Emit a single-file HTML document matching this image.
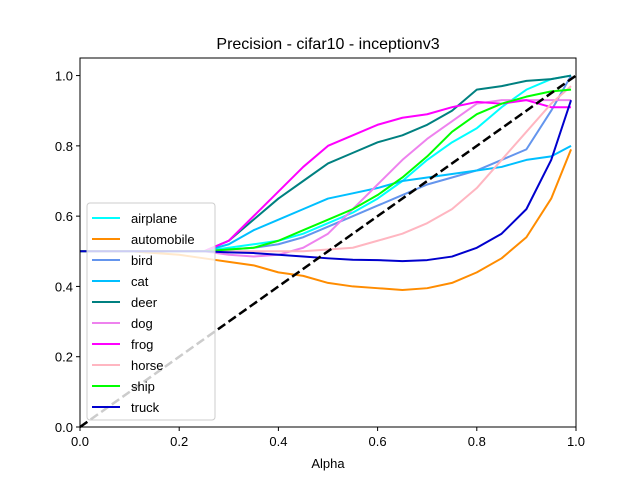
<!DOCTYPE html>
<html><head><meta charset="utf-8"><style>body{margin:0;background:#fff}svg{display:block;font-family:"Liberation Sans","DejaVu Sans",sans-serif}</style></head>
<body>
<svg id="chart" width="640" height="480">
<rect width="640" height="480" fill="#fff"/>
<text x="328" y="49" text-anchor="middle" font-size="16">Precision - cifar10 - inceptionv3</text>
<g id="plot"></g>
<rect x="80" y="58" width="496" height="369" fill="none" stroke="#000" stroke-width="1"/>
<g id="ticks"></g>
<text x="328" y="468" text-anchor="middle" font-size="13">Alpha</text>
<g id="legend"></g>
</svg>
<script>
const xs = [0,0.1,0.2,0.25,0.3,0.35,0.4,0.45,0.5,0.55,0.6,0.65,0.7,0.75,0.8,0.85,0.9,0.95,0.99];
const seriesNames = ["airplane","automobile","bird","cat","deer","dog","frog","horse","ship","truck"];
const colors = ["#00ffff","#ff8c00","#6495ed","#00bfff","#008080","#ee82ee","#ff00ff","#ffb6c1","#00ff00","#0000cd"];
const airplane = [0.5,0.5,0.5,0.5,0.51,0.52,0.53,0.55,0.58,0.61,0.65,0.70,0.76,0.81,0.85,0.91,0.96,0.99,1.0];
const automobile = [0.5,0.5,0.49,0.48,0.47,0.46,0.44,0.43,0.41,0.40,0.395,0.39,0.395,0.41,0.44,0.48,0.54,0.65,0.79];
const bird = [0.5,0.5,0.5,0.5,0.505,0.51,0.52,0.54,0.57,0.60,0.63,0.66,0.69,0.71,0.73,0.76,0.79,0.90,1.0];
const cat = [0.5,0.5,0.5,0.5,0.52,0.56,0.59,0.62,0.65,0.665,0.68,0.70,0.71,0.72,0.73,0.74,0.76,0.77,0.80];
const deer = [0.5,0.5,0.5,0.5,0.53,0.59,0.65,0.70,0.75,0.78,0.81,0.83,0.86,0.90,0.96,0.97,0.985,0.99,1.0];
const dog = [0.5,0.5,0.5,0.5,0.49,0.485,0.49,0.51,0.55,0.62,0.69,0.76,0.82,0.87,0.92,0.93,0.93,0.93,0.93];
const frog = [0.5,0.5,0.5,0.5,0.53,0.60,0.67,0.74,0.80,0.83,0.86,0.88,0.89,0.91,0.925,0.92,0.93,0.91,0.91];
const horse = [0.5,0.5,0.5,0.5,0.5,0.5,0.5,0.5,0.505,0.51,0.53,0.55,0.58,0.62,0.68,0.76,0.84,0.92,0.97];
const ship = [0.5,0.5,0.5,0.5,0.505,0.51,0.53,0.56,0.59,0.62,0.66,0.71,0.77,0.84,0.89,0.92,0.94,0.955,0.96];
const truck = [0.5,0.5,0.5,0.5,0.497,0.495,0.49,0.485,0.48,0.476,0.475,0.472,0.475,0.485,0.51,0.55,0.62,0.76,0.93];
const allSeries = [airplane,automobile,bird,cat,deer,dog,frog,horse,ship,truck];
const xTicks = ["0.0","0.2","0.4","0.6","0.8","1.0"];
const yTicks = ["0.0","0.2","0.4","0.6","0.8","1.0"];

const NS="http://www.w3.org/2000/svg";
const X0=80,X1=576,Y0=427,YT=58,YMAX=1.05;
const sx=v=>X0+v*(X1-X0);
const sy=v=>Y0-v/YMAX*(Y0-YT);
function mk(tag,attrs,parent){const e=document.createElementNS(NS,tag);for(const k in attrs)e.setAttribute(k,attrs[k]);parent.appendChild(e);return e;}
const plot=document.getElementById('plot');
allSeries.forEach((s,i)=>{
  const p=mk('polyline',{points:s.map((v,j)=>sx(xs[j])+','+sy(v)).join(' '),fill:'none',stroke:colors[i],'stroke-width':2,'stroke-linejoin':'round'},plot);
  
  
});
const diag=mk('line',{x1:sx(0),y1:sy(0),x2:sx(1),y2:sy(1),stroke:'#000','stroke-width':2.5,'stroke-dasharray':'9,4'},plot);


const tk=document.getElementById('ticks');
xTicks.forEach(t=>{const v=parseFloat(t);
  mk('line',{x1:sx(v),x2:sx(v),y1:Y0,y2:Y0+4,stroke:'#000'},tk);
  const e=mk('text',{x:sx(v),y:Y0+19,'text-anchor':'middle','font-size':13},tk);e.textContent=t;
  
  
});
yTicks.forEach(t=>{const v=parseFloat(t);
  mk('line',{x1:X0-4,x2:X0,y1:sy(v),y2:sy(v),stroke:'#000'},tk);
  const e=mk('text',{x:X0-7,y:sy(v)+5,'text-anchor':'end','font-size':13},tk);e.textContent=t;
  
  
});
const lg=document.getElementById('legend');


mk('rect',{x:87,y:203,width:128,height:217,rx:3,fill:'#fff','fill-opacity':0.8,stroke:'#ccc'},lg);
seriesNames.forEach((n,i)=>{const y=218+i*21;
  const g=mk('g',{},lg);
  
  
  mk('line',{x1:92,x2:120,y1:y,y2:y,stroke:colors[i],'stroke-width':2},g);
  const t=mk('text',{x:131,y:y+5,'font-size':13},g);t.textContent=n;
});
</script>
</body></html>
